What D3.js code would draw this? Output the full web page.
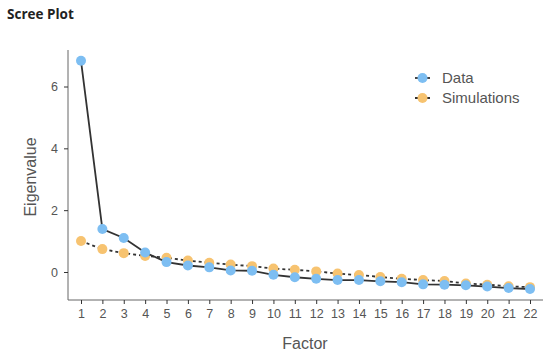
<!DOCTYPE html>
<html>
<head>
<meta charset="utf-8">
<script src="https://cdn.jsdelivr.net/npm/d3@7"></script>
<style>
  body { margin: 0; background: #fff; }
  svg { font-family: "Liberation Sans", Arial, sans-serif; }
  .title { font-family: "Open Sans", sans-serif; font-weight: bold; font-size: 13.5px; fill: #222; }
  .axis text { fill: #555; font-size: 12.5px; }
  .axis line { stroke: #333; }
  .axis path { stroke: #666; }
  .label { fill: #555; font-size: 16px; }
  .legend text { fill: #555; font-size: 15px; }
</style>
</head>
<body>
<svg width="550" height="357"></svg>
<script>
// factors on the x axis
var factors = d3.range(1, 23);
// eigenvalues
var dataValues = [6.83, 1.39, 1.10, 0.63, 0.32, 0.21, 0.15, 0.05, 0.04, -0.09, -0.17,
                  -0.22, -0.26, -0.26, -0.30, -0.33, -0.40, -0.41, -0.43, -0.47, -0.52, -0.55];
var simValues = [1.00, 0.74, 0.61, 0.52, 0.46, 0.37, 0.30, 0.24, 0.19, 0.11, 0.07,
                 0.02, -0.05, -0.10, -0.16, -0.22, -0.26, -0.29, -0.37, -0.41, -0.46, -0.49];
var yTicks = [0, 2, 4, 6];

var svg = d3.select("svg");

var x = d3.scaleLinear().domain([1, 22]).range([81, 530]);
var y = d3.scaleLinear().domain([0, 6]).range([272, 86.5]);

svg.append("text")
  .attr("class", "title")
  .attr("x", 7)
  .attr("y", 19)
  .text("Scree Plot");

// axes
svg.append("g")
  .attr("class", "axis")
  .attr("transform", "translate(0,300)")
  .call(d3.axisBottom(x).tickValues(factors).tickFormat(d3.format("d")).tickSize(4).tickPadding(5).tickSizeOuter(0))
  .call(function(g) { g.select(".domain").attr("d", "M68,0H543"); });

svg.append("g")
  .attr("class", "axis")
  .attr("transform", "translate(68,0)")
  .call(d3.axisLeft(y).tickValues(yTicks).tickFormat(d3.format("d")).tickSize(4).tickPadding(6).tickSizeOuter(0))
  .call(function(g) { g.select(".domain").attr("d", "M0,50V300"); });

svg.append("text")
  .attr("class", "label")
  .attr("text-anchor", "middle")
  .attr("transform", "translate(36,177) rotate(-90)")
  .text("Eigenvalue");

svg.append("text")
  .attr("class", "label")
  .attr("text-anchor", "middle")
  .attr("x", 305)
  .attr("y", 349)
  .text("Factor");

var line = d3.line()
  .x(function(d, i) { return x(factors[i]); })
  .y(function(d) { return y(d); });

// simulations first (behind)
svg.append("path")
  .datum(simValues)
  .attr("d", line)
  .attr("fill", "none")
  .attr("stroke", "#333")
  .attr("stroke-width", 1.8)
  .attr("stroke-dasharray", "3,3");

svg.selectAll("circle.sim")
  .data(simValues)
  .enter().append("circle")
  .attr("class", "sim")
  .attr("cx", function(d, i) { return x(factors[i]); })
  .attr("cy", function(d) { return y(d); })
  .attr("r", 5)
  .attr("fill", "#f7c370");

svg.append("path")
  .datum(dataValues)
  .attr("d", line)
  .attr("fill", "none")
  .attr("stroke", "#333")
  .attr("stroke-width", 1.8);

svg.selectAll("circle.data")
  .data(dataValues)
  .enter().append("circle")
  .attr("class", "data")
  .attr("cx", function(d, i) { return x(factors[i]); })
  .attr("cy", function(d) { return y(d); })
  .attr("r", 5)
  .attr("fill", "#7dbef2");

// legend
var legend = svg.append("g").attr("class", "legend");
var items = [
  { name: "Data", color: "#7dbef2", dash: null, y: 78 },
  { name: "Simulations", color: "#f7c370", dash: "3,3", y: 98 }
];
items.forEach(function(it) {
  legend.append("line")
    .attr("x1", 415).attr("x2", 430)
    .attr("y1", it.y).attr("y2", it.y)
    .attr("stroke", "#333")
    .attr("stroke-width", 1.8)
    .attr("stroke-dasharray", it.dash);
  legend.append("circle")
    .attr("cx", 422.5).attr("cy", it.y).attr("r", 5)
    .attr("fill", it.color);
  legend.append("text")
    .attr("x", 442).attr("y", it.y + 5)
    .text(it.name);
});
</script>
</body>
</html>
